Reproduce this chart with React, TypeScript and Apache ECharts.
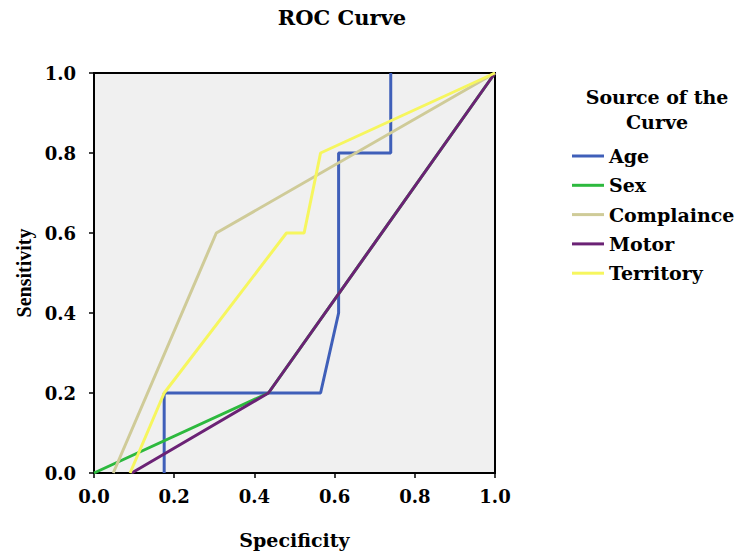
import React, { useEffect, useRef } from "react";
import * as echarts from "echarts";

const seriesNames = ["Age", "Sex", "Complaince", "Motor", "Territory"];
const seriesColors = ["#3F5FB9", "#2DB93E", "#CFCB98", "#6B2275", "#F6F65E"];

const ageX = [0.175, 0.175, 0.565, 0.61, 0.61, 0.74, 0.74];
const ageY = [0, 0.2, 0.2, 0.4, 0.8, 0.8, 1.0];
const sexX = [0, 0.435, 1];
const sexY = [0, 0.2, 1];
const complainceX = [0.048, 0.305, 1];
const complainceY = [0, 0.6, 1];
const motorX = [0.094, 0.435, 1];
const motorY = [0, 0.2, 1];
const territoryX = [0.09, 0.175, 0.48, 0.524, 0.565, 1];
const territoryY = [0, 0.2, 0.6, 0.6, 0.8, 1];

const xs = [ageX, sexX, complainceX, motorX, territoryX];
const ys = [ageY, sexY, complainceY, motorY, territoryY];

const SERIF = "'DejaVu Serif', serif";
const TIMES = "'Liberation Serif', 'Times New Roman', serif";

export default function App() {
  const ref = useRef<HTMLDivElement>(null);
  useEffect(() => {
    document.body.style.margin = "0";
    const chart = echarts.init(ref.current!, null, { renderer: "svg" });
    const series = seriesNames.map((name, i) => ({
      name,
      type: "line",
      data: xs[i].map((x, j) => [x, ys[i][j]]),
      showSymbol: false,
      symbol: "none",
      lineStyle: { color: seriesColors[i], width: 3 },
      itemStyle: { color: seriesColors[i] },
      z: 2 + i,
    }));
    chart.setOption({
      animation: false,
      backgroundColor: "#ffffff",
      grid: {
        left: 94,
        top: 73,
        right: 248,
        bottom: 84,
        show: true,
        backgroundColor: "#F0F0F0",
        borderColor: "#000000",
        borderWidth: 2,
        containLabel: false,
      },
      xAxis: {
        type: "value",
        min: 0,
        max: 1,
        interval: 0.2,
        name: "Specificity",
        nameLocation: "middle",
        nameGap: 57,
        nameTextStyle: { fontFamily: SERIF, fontWeight: "bold", fontSize: 19, color: "#000" },
        axisLine: { show: true, lineStyle: { color: "#000", width: 2 } },
        axisTick: { show: true, length: 5, lineStyle: { color: "#000", width: 1.5 } },
        splitLine: { show: false },
        axisLabel: {
          formatter: (v: number) => v.toFixed(1),
          fontFamily: SERIF,
          fontWeight: "bold",
          fontSize: 18,
          color: "#000",
          margin: 14,
        },
      },
      yAxis: {
        type: "value",
        min: 0,
        max: 1,
        interval: 0.2,
        name: "Sensitivity",
        nameLocation: "middle",
        nameRotate: 90,
        nameGap: 57,
        nameTextStyle: { fontFamily: TIMES, fontWeight: "bold", fontSize: 20, color: "#000" },
        axisLine: { show: true, lineStyle: { color: "#000", width: 2 } },
        axisTick: { show: true, length: 5, lineStyle: { color: "#000", width: 1.5 } },
        splitLine: { show: false },
        axisLabel: {
          formatter: (v: number) => v.toFixed(1),
          fontFamily: SERIF,
          fontWeight: "bold",
          fontSize: 18,
          color: "#000",
          margin: 18,
        },
      },
      legend: {
        orient: "vertical",
        left: 572,
        top: 146,
        padding: 0,
        itemWidth: 32,
        itemHeight: 3,
        itemGap: 9.3,
        icon: "rect",
        data: seriesNames,
        textStyle: {
          fontFamily: SERIF,
          fontWeight: "bold",
          fontSize: 19,
          lineHeight: 20,
          color: "#000",
        },
      },
      graphic: [
        {
          type: "text",
          x: 342,
          y: 17,
          style: {
            text: "ROC Curve",
            font: "bold 21px 'DejaVu Serif', serif",
            fill: "#000",
            textAlign: "center",
            textVerticalAlign: "middle",
          },
        },
        {
          type: "text",
          x: 657,
          y: 97,
          style: {
            text: "Source of the",
            font: "bold 19px 'DejaVu Serif', serif",
            fill: "#000",
            textAlign: "center",
            textVerticalAlign: "middle",
          },
        },
        {
          type: "text",
          x: 657,
          y: 122,
          style: {
            text: "Curve",
            font: "bold 19px 'DejaVu Serif', serif",
            fill: "#000",
            textAlign: "center",
            textVerticalAlign: "middle",
          },
        },
      ],
      series,
    });
    return () => chart.dispose();
  }, []);
  return <div ref={ref} style={{ width: 743, height: 557 }} />;
}
